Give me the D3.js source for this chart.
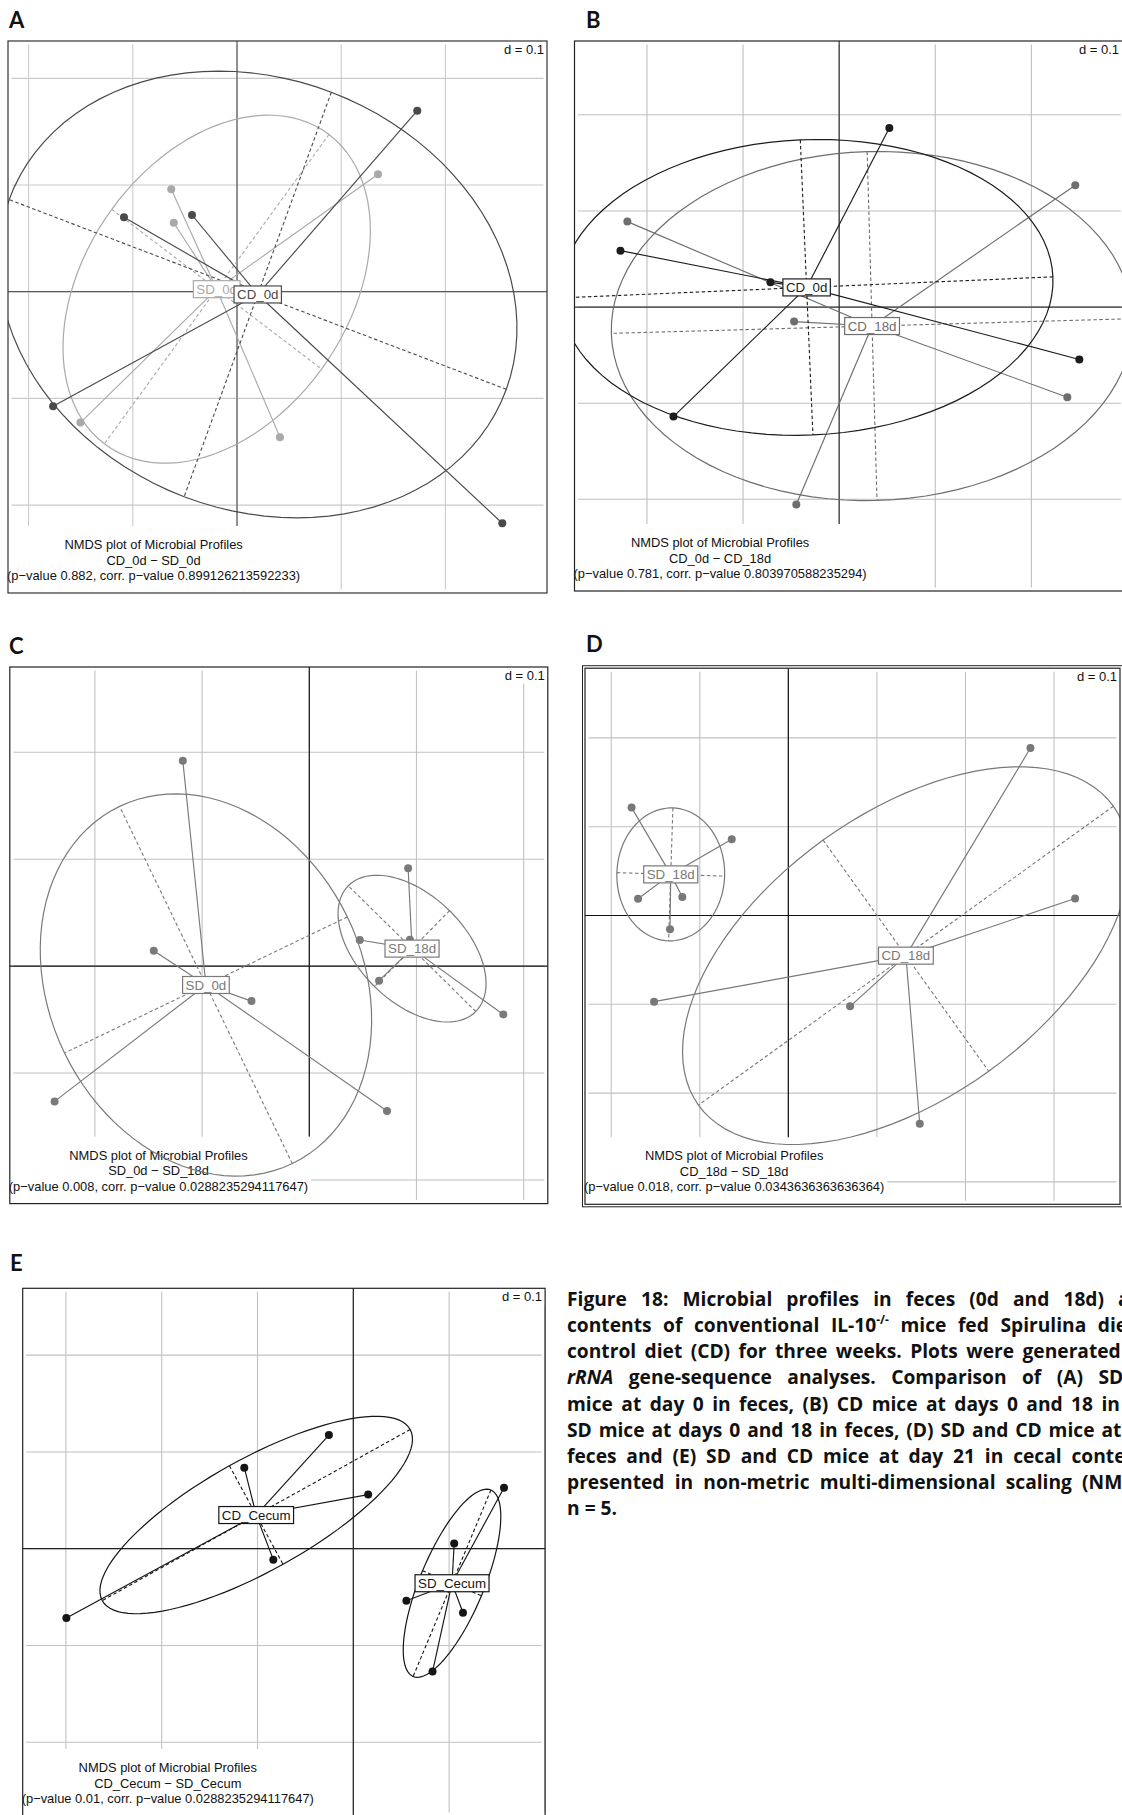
<!DOCTYPE html>
<html>
<head>
<meta charset="utf-8">
<script src="https://cdn.jsdelivr.net/npm/d3@7"></script>
<style>
  html, body { margin: 0; padding: 0; background: #fff; overflow: hidden; }
  #fig { position: relative; width: 1122px; height: 1815px; overflow: hidden; }
</style>
</head>
<body>
<div id="fig"></div>
<script>
// ---------------------------------------------------------------
// NMDS ordination scores (5 mice per group), axis units d = 0.1
// ---------------------------------------------------------------

// Panel A: CD_0d vs SD_0d
const a_CD0d_x = [0.1730, -0.1085, -0.0432, -0.1765, 0.2546];
const a_CD0d_y = [0.1697, 0.0698, 0.0719, -0.1073, -0.2170];
const a_SD0d_x = [0.1353, -0.0631, -0.0607, -0.1503, 0.0412];
const a_SD0d_y = [0.1101, 0.0961, 0.0647, -0.1227, -0.1363];

// Panel B: CD_0d vs CD_18d
const b_CD0d_x = [0.0522, -0.2276, -0.0715, -0.1724, 0.2499];
const b_CD0d_y = [0.1862, 0.0587, 0.0257, -0.1139, -0.0545];
const b_CD18d_x = [0.2457, -0.2204, -0.0469, 0.2374, -0.0446];
const b_CD18d_y = [0.1268, 0.0889, -0.0151, -0.0938, -0.2055];

// Panel C: SD_0d vs SD_18d
const c_SD0d_x = [-0.1180, -0.1451, -0.0539, -0.2376, 0.0725];
const c_SD0d_y = [0.1922, 0.0143, -0.0327, -0.1265, -0.1354];
const c_SD18d_x = [0.0922, 0.0471, 0.0939, 0.0651, 0.1810];
const c_SD18d_y = [0.0915, 0.0245, 0.0248, -0.0136, -0.0452];

// Panel D: CD_18d vs SD_18d
const d_SD18d_x = [-0.1770, -0.0639, -0.1697, -0.1197, -0.1336];
const d_SD18d_y = [0.1215, 0.0859, 0.0188, 0.0209, -0.0155];
const d_CD18d_x = [0.2734, 0.3238, -0.1516, 0.0697, 0.1484];
const d_CD18d_y = [0.1886, 0.0192, -0.0970, -0.1023, -0.2345];

// Panel E: CD_Cecum vs SD_Cecum
const e_CDCecum_x = [-0.0255, -0.1138, 0.0155, -0.0835, -0.2995];
const e_CDCecum_y = [0.1174, 0.0837, 0.0559, -0.0113, -0.0717];
const e_SDCecum_x = [0.1573, 0.1053, 0.0554, 0.1145, 0.0827];
const e_SDCecum_y = [0.0629, 0.0055, -0.0537, -0.0662, -0.1269];

// Subtitles (comparison, p-value, corrected p-value)
const subTitle = "NMDS plot of Microbial Profiles";
const subPairs = ["CD_0d \u2212 SD_0d", "CD_0d \u2212 CD_18d", "SD_0d \u2212 SD_18d", "CD_18d \u2212 SD_18d", "CD_Cecum \u2212 SD_Cecum"];
const pValues = ["0.882", "0.781", "0.008", "0.018", "0.01"];
const corrPValues = ["0.899126213592233", "0.803970588235294", "0.0288235294117647", "0.0343636363636364", "0.0288235294117647"];
const gridStep = 0.1;

// Figure caption, one entry per printed line (*...* italic, ^ superscript)
const captionLines = [
  "Figure 18: Microbial profiles in feces (0d and 18d) and cecal",
  "contents of conventional IL-10^-/- mice fed Spirulina diet (SD) or",
  "control diet (CD) for three weeks. Plots were generated from 16S",
  "*rRNA* gene-sequence analyses. Comparison of (A) SD and CD",
  "mice at day 0 in feces, (B) CD mice at days 0 and 18 in feces, (C)",
  "SD mice at days 0 and 18 in feces, (D) SD and CD mice at day 18 in",
  "feces and (E) SD and CD mice at day 21 in cecal contents. Data",
  "presented in non-metric multi-dimensional scaling (NMDS) plots;",
  "n = 5."
];

// ---------------------------------------------------------------
// Layout of the five panels
// ---------------------------------------------------------------
const panels = [
  { letter: "A", letterPos: [9, 27.5], box: [8, 41, 547, 593],
    xDom: [-0.2198, 0.2975], yDom: [-0.2824, 0.2350],
    axisColor: "#5a5a5a", gridColor: "#cacaca", border: "#333", double: false,
    groups: [
      { name: "SD_0d", xs: a_SD0d_x, ys: a_SD0d_y, color: "#a9a9a9" },
      { name: "CD_0d", xs: a_CD0d_x, ys: a_CD0d_y, color: "#4a4a4a" } ] },
  { letter: "B", letterPos: [586, 27.5], box: [574.5, 41, 1124.5, 591],
    xDom: [-0.2754, 0.2969], yDom: [-0.2954, 0.2768],
    axisColor: "#333", gridColor: "#bfbfbf", border: "#222", double: false,
    groups: [
      { name: "CD_18d", xs: b_CD18d_x, ys: b_CD18d_y, color: "#6e6e6e" },
      { name: "CD_0d", xs: b_CD0d_x, ys: b_CD0d_y, color: "#1c1c1c" } ] },
  { letter: "C", letterPos: [9, 654], box: [9.8, 667, 547.8, 1203.6],
    xDom: [-0.2794, 0.2225], yDom: [-0.2221, 0.2798],
    axisColor: "#111", gridColor: "#c2c2c2", border: "#222", double: false,
    groups: [
      { name: "SD_0d", xs: c_SD0d_x, ys: c_SD0d_y, color: "#7a7a7a" },
      { name: "SD_18d", xs: c_SD18d_x, ys: c_SD18d_y, color: "#7a7a7a" } ] },
  { letter: "D", letterPos: [586, 652], box: [585, 668.2, 1120, 1204.3],
    xDom: [-0.2296, 0.3745], yDom: [-0.3252, 0.2785],
    axisColor: "#111", gridColor: "#c2c2c2", border: "#222", double: true,
    groups: [
      { name: "SD_18d", xs: d_SD18d_x, ys: d_SD18d_y, color: "#787878" },
      { name: "CD_18d", xs: d_CD18d_x, ys: d_CD18d_y, color: "#787878" } ] },
  { letter: "E", letterPos: [10, 1271], box: [22.7, 1288.3, 545.1, 1816],
    xDom: [-0.3451, 0.2002], yDom: [-0.2762, 0.2691],
    axisColor: "#222", gridColor: "#c2c2c2", border: "#222", double: false,
    groups: [
      { name: "CD_Cecum", xs: e_CDCecum_x, ys: e_CDCecum_y, color: "#151515" },
      { name: "SD_Cecum", xs: e_SDCecum_x, ys: e_SDCecum_y, color: "#151515" } ] }
];

const svg = d3.select("#fig").append("svg")
  .attr("width", 1122).attr("height", 1815)
  .style("position", "absolute").style("left", 0).style("top", 0);
svg.append("rect").attr("width", 1122).attr("height", 1815).attr("fill", "#fff");
const defs = svg.append("defs");

const SANS = "'Liberation Sans', Arial, sans-serif";

// Class ellipse with principal axes (coefficient 1.5), as in ade4's s.class
function classEllipse(xs, ys, coeff) {
  const n = xs.length;
  const mx = d3.mean(xs), my = d3.mean(ys);
  let vx = 0, vy = 0, cxy = 0;
  for (let i = 0; i < n; i++) {
    vx += (xs[i] - mx) ** 2;
    vy += (ys[i] - my) ** 2;
    cxy += (xs[i] - mx) * (ys[i] - my);
  }
  vx /= n; vy /= n; cxy /= n;
  const delta = Math.sqrt((vx - vy) ** 2 + 4 * cxy * cxy);
  let l1 = (vx + vy + delta) / 2;
  let l2 = vx + vy - l1;
  l1 = Math.sqrt(Math.max(l1, 0));
  l2 = Math.sqrt(Math.max(l2, 0));
  let a0, b0;
  if (Math.abs(cxy) < 1e-10) {
    if (vx > vy) { a0 = 1; b0 = 0; } else { a0 = 0; b0 = 1; }
  } else {
    a0 = 1; b0 = (l1 * l1 - vx) / cxy;
    const nrm = Math.sqrt(a0 * a0 + b0 * b0);
    a0 /= nrm; b0 /= nrm;
  }
  const c11 = coeff * a0 * l1, c12 = -coeff * b0 * l2;
  const c21 = coeff * b0 * l1, c22 = coeff * a0 * l2;
  const pts = d3.range(100).map(i => {
    const t = 2 * Math.PI * i / 100;
    return [mx + c11 * Math.cos(t) + c12 * Math.sin(t), my + c21 * Math.cos(t) + c22 * Math.sin(t)];
  });
  return {
    mx, my, pts,
    major: [[mx + c11, my + c21], [mx - c11, my - c21]],
    minor: [[mx + c12, my + c22], [mx - c12, my - c22]]
  };
}

panels.forEach((p, pi) => {
  const [x0, y0, x1, y1] = p.box;
  const x = d3.scaleLinear().domain(p.xDom).range([x0, x1]);
  const y = d3.scaleLinear().domain(p.yDom).range([y1, y0]);
  const g = svg.append("g");

  // panel letter
  svg.append("text").attr("x", p.letterPos[0]).attr("y", p.letterPos[1])
    .attr("font-family", "Lato, 'Open Sans', sans-serif").attr("font-weight", 700)
    .attr("font-size", 22).attr("fill", "#111").text(p.letter);

  // grid
  const ticks = d3.range(-6, 7).map(k => +(k * gridStep).toFixed(2));
  const xt = ticks.filter(v => v > p.xDom[0] && v < p.xDom[1]);
  const yt = ticks.filter(v => v > p.yDom[0] && v < p.yDom[1]);
  const inset = 3.5;
  g.selectAll(".gx").data(xt).enter().append("line")
    .attr("x1", d => x(d)).attr("x2", d => x(d))
    .attr("y1", y0 + inset).attr("y2", y1 - inset)
    .attr("stroke", p.gridColor).attr("stroke-width", 1.1);
  g.selectAll(".gy").data(yt).enter().append("line")
    .attr("y1", d => y(d)).attr("y2", d => y(d))
    .attr("x1", x0 + inset).attr("x2", x1 - inset)
    .attr("stroke", p.gridColor).attr("stroke-width", 1.1);

  // origin axes
  g.append("line").attr("x1", x(0)).attr("x2", x(0)).attr("y1", y0).attr("y2", y1)
    .attr("stroke", p.axisColor).attr("stroke-width", 1.2);
  g.append("line").attr("x1", x0).attr("x2", x1).attr("y1", y(0)).attr("y2", y(0))
    .attr("stroke", p.axisColor).attr("stroke-width", 1.2);

  // grid size label
  const dRight = Math.min(x1, 1122);
  const dText = g.append("text").attr("x", dRight - 3).attr("y", y0 + 12.5)
    .attr("text-anchor", "end").attr("font-family", SANS).attr("font-size", 13)
    .attr("fill", "#111").text("d = " + gridStep);
  const dW = dText.node().getComputedTextLength();
  g.insert("rect", () => dText.node())
    .attr("x", dRight - 3 - dW - 3).attr("y", y0)
    .attr("width", dW + 6 + (x1 - dRight)).attr("height", 16.5).attr("fill", "#fff");

  // subtitle block
  const subLines = [subTitle, subPairs[pi],
    "(p\u2212value " + pValues[pi] + ", corr. p\u2212value " + corrPValues[pi] + ")"];
  const subG = g.append("g");
  const subRect = subG.append("rect").attr("fill", "#fff");
  const subTexts = subLines.map((s, i) => subG.append("text")
    .attr("y", y1 - 44 + i * 15.5).attr("text-anchor", "middle")
    .attr("font-family", SANS).attr("font-size", 12.9).attr("fill", "#111").text(s));
  const sw = d3.max(subTexts, t => t.node().getComputedTextLength());
  const cx = x0 + sw / 2 - 1;
  subTexts.forEach(t => t.attr("x", cx));
  subRect.attr("x", x0).attr("y", y1 - 67).attr("width", sw + 2).attr("height", 67);

  // classes, clipped to the plotting box
  const clipId = "clip" + p.letter;
  defs.append("clipPath").attr("id", clipId).append("rect")
    .attr("x", x0).attr("y", y0).attr("width", x1 - x0).attr("height", y1 - y0);
  const m = g.append("g").attr("clip-path", `url(#${clipId})`);
  const line = d3.line().x(d => x(d[0])).y(d => y(d[1]));
  const ells = p.groups.map(gr => classEllipse(gr.xs, gr.ys, 1.5));

  p.groups.forEach((gr, gi) => {
    const e = ells[gi];
    const pts = gr.xs.map((v, i) => [v, gr.ys[i]]);
    // stars from each mouse to its group centroid
    m.selectAll(null).data(pts).enter().append("line")
      .attr("x1", d => x(d[0])).attr("y1", d => y(d[1]))
      .attr("x2", x(e.mx)).attr("y2", y(e.my))
      .attr("stroke", gr.color).attr("stroke-width", 1.15);
    // ellipse and its principal axes
    m.append("path").attr("d", line.curve(d3.curveLinearClosed)(e.pts))
      .attr("fill", "none").attr("stroke", gr.color).attr("stroke-width", 1.2);
    [e.major, e.minor].forEach(seg => m.append("path")
      .attr("d", d3.line().x(d => x(d[0])).y(d => y(d[1]))(seg))
      .attr("fill", "none").attr("stroke", gr.color).attr("stroke-width", 1.1)
      .attr("stroke-dasharray", "3.5,2.5"));
    // points
    m.selectAll(null).data(pts).enter().append("circle")
      .attr("cx", d => x(d[0])).attr("cy", d => y(d[1])).attr("r", 4)
      .attr("fill", gr.color);
  });

  // class labels at the centroids
  p.groups.forEach((gr, gi) => {
    const e = ells[gi];
    const lg = m.append("g");
    const r = lg.append("rect").attr("fill", "#fff").attr("stroke", gr.color).attr("stroke-width", 1.2);
    const t = lg.append("text").attr("x", x(e.mx)).attr("y", y(e.my) + 4.7)
      .attr("text-anchor", "middle").attr("font-family", SANS).attr("font-size", 13.3)
      .attr("fill", gr.color).text(gr.name);
    const w = t.node().getComputedTextLength();
    r.attr("x", x(e.mx) - w / 2 - 3).attr("y", y(e.my) - 8.5)
      .attr("width", w + 6).attr("height", 17);
  });

  // frame
  g.append("rect").attr("x", x0).attr("y", y0).attr("width", x1 - x0).attr("height", y1 - y0)
    .attr("fill", "none").attr("stroke", p.border).attr("stroke-width", 1.2);
  if (p.double) {
    g.append("rect").attr("x", x0 - 2.5).attr("y", y0 - 2.5)
      .attr("width", x1 - x0 + 5).attr("height", y1 - y0 + 5)
      .attr("fill", "none").attr("stroke", p.border).attr("stroke-width", 1);
  }
});

// ---------------------------------------------------------------
// Caption, justified to a fixed column width
// ---------------------------------------------------------------
const capLeft = 567, capTop = 1306, capStep = 26.15, capWidth = 650;
const cap = svg.append("g").attr("font-family", "'Open Sans', Lato, sans-serif")
  .attr("font-weight", 700).attr("font-size", 19.2).attr("fill", "#111");

captionLines.forEach((ln, li) => {
  const words = ln.split(" ");
  const nodes = words.map(wd => {
    const t = cap.append("text").attr("y", capTop + li * capStep);
    if (wd.startsWith("*") && wd.endsWith("*")) {
      t.append("tspan").attr("font-style", "italic").text(wd.slice(1, -1));
    } else if (wd.includes("^")) {
      const [base, sup] = wd.split("^");
      t.append("tspan").text(base);
      t.append("tspan").attr("font-size", 12).attr("dy", -8).text(sup);
    } else {
      t.text(wd);
    }
    return t;
  });
  const widths = nodes.map(t => t.node().getComputedTextLength());
  const total = d3.sum(widths);
  const last = li === captionLines.length - 1;
  const gap = last ? 5 : Math.max(3, (capWidth - total) / (words.length - 1));
  let cx = capLeft;
  nodes.forEach((t, i) => { t.attr("x", cx); cx += widths[i] + gap; });
});
</script>
</body>
</html>
